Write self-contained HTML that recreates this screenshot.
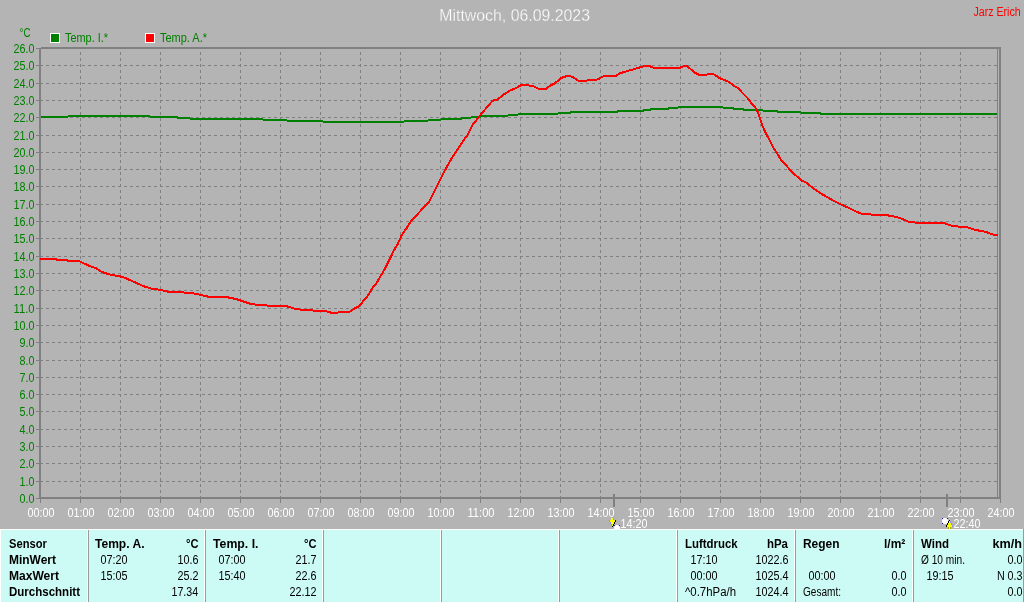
<!DOCTYPE html>
<html><head><meta charset="utf-8"><title>Wetter</title>
<style>html,body{margin:0;padding:0;background:#b4b4b4;overflow:hidden}svg text{white-space:pre}</style></head>
<body>
<svg width="1024" height="602" viewBox="0 0 1024 602" font-family="'Liberation Sans', sans-serif" font-size="12.5" style="display:block;will-change:transform">
<rect x="0" y="0" width="1024" height="602" fill="#b4b4b4"/>
<g shape-rendering="crispEdges" stroke="#808080" stroke-width="1" fill="none">
<line x1="40" y1="481.5" x2="997" y2="481.5" stroke-dasharray="3 3"/>
<line x1="40" y1="463.5" x2="997" y2="463.5" stroke-dasharray="3 3"/>
<line x1="40" y1="446.5" x2="997" y2="446.5" stroke-dasharray="3 3"/>
<line x1="40" y1="429.5" x2="997" y2="429.5" stroke-dasharray="3 3"/>
<line x1="40" y1="411.5" x2="997" y2="411.5" stroke-dasharray="3 3"/>
<line x1="40" y1="394.5" x2="997" y2="394.5" stroke-dasharray="3 3"/>
<line x1="40" y1="377.5" x2="997" y2="377.5" stroke-dasharray="3 3"/>
<line x1="40" y1="360.5" x2="997" y2="360.5" stroke-dasharray="3 3"/>
<line x1="40" y1="342.5" x2="997" y2="342.5" stroke-dasharray="3 3"/>
<line x1="40" y1="325.5" x2="997" y2="325.5" stroke-dasharray="3 3"/>
<line x1="40" y1="308.5" x2="997" y2="308.5" stroke-dasharray="3 3"/>
<line x1="40" y1="290.5" x2="997" y2="290.5" stroke-dasharray="3 3"/>
<line x1="40" y1="273.5" x2="997" y2="273.5" stroke-dasharray="3 3"/>
<line x1="40" y1="256.5" x2="997" y2="256.5" stroke-dasharray="3 3"/>
<line x1="40" y1="238.5" x2="997" y2="238.5" stroke-dasharray="3 3"/>
<line x1="40" y1="221.5" x2="997" y2="221.5" stroke-dasharray="3 3"/>
<line x1="40" y1="204.5" x2="997" y2="204.5" stroke-dasharray="3 3"/>
<line x1="40" y1="186.5" x2="997" y2="186.5" stroke-dasharray="3 3"/>
<line x1="40" y1="169.5" x2="997" y2="169.5" stroke-dasharray="3 3"/>
<line x1="40" y1="152.5" x2="997" y2="152.5" stroke-dasharray="3 3"/>
<line x1="40" y1="135.5" x2="997" y2="135.5" stroke-dasharray="3 3"/>
<line x1="40" y1="117.5" x2="997" y2="117.5" stroke-dasharray="3 3"/>
<line x1="40" y1="100.5" x2="997" y2="100.5" stroke-dasharray="3 3"/>
<line x1="40" y1="83.5" x2="997" y2="83.5" stroke-dasharray="3 3"/>
<line x1="40" y1="65.5" x2="997" y2="65.5" stroke-dasharray="3 3"/>
<line x1="80.5" y1="52" x2="80.5" y2="497" stroke-dasharray="3 3"/>
<line x1="120.5" y1="52" x2="120.5" y2="497" stroke-dasharray="3 3"/>
<line x1="160.5" y1="52" x2="160.5" y2="497" stroke-dasharray="3 3"/>
<line x1="200.5" y1="52" x2="200.5" y2="497" stroke-dasharray="3 3"/>
<line x1="240.5" y1="52" x2="240.5" y2="497" stroke-dasharray="3 3"/>
<line x1="280.5" y1="52" x2="280.5" y2="497" stroke-dasharray="3 3"/>
<line x1="320.5" y1="52" x2="320.5" y2="497" stroke-dasharray="3 3"/>
<line x1="360.5" y1="52" x2="360.5" y2="497" stroke-dasharray="3 3"/>
<line x1="400.5" y1="52" x2="400.5" y2="497" stroke-dasharray="3 3"/>
<line x1="440.5" y1="52" x2="440.5" y2="497" stroke-dasharray="3 3"/>
<line x1="480.5" y1="52" x2="480.5" y2="497" stroke-dasharray="3 3"/>
<line x1="520.5" y1="52" x2="520.5" y2="497" stroke-dasharray="3 3"/>
<line x1="560.5" y1="52" x2="560.5" y2="497" stroke-dasharray="3 3"/>
<line x1="600.5" y1="52" x2="600.5" y2="497" stroke-dasharray="3 3"/>
<line x1="640.5" y1="52" x2="640.5" y2="497" stroke-dasharray="3 3"/>
<line x1="680.5" y1="52" x2="680.5" y2="497" stroke-dasharray="3 3"/>
<line x1="720.5" y1="52" x2="720.5" y2="497" stroke-dasharray="3 3"/>
<line x1="760.5" y1="52" x2="760.5" y2="497" stroke-dasharray="3 3"/>
<line x1="800.5" y1="52" x2="800.5" y2="497" stroke-dasharray="3 3"/>
<line x1="840.5" y1="52" x2="840.5" y2="497" stroke-dasharray="3 3"/>
<line x1="880.5" y1="52" x2="880.5" y2="497" stroke-dasharray="3 3"/>
<line x1="920.5" y1="52" x2="920.5" y2="497" stroke-dasharray="3 3"/>
<line x1="960.5" y1="52" x2="960.5" y2="497" stroke-dasharray="3 3"/>
</g>
<g shape-rendering="crispEdges" fill="#808080">
<rect x="39" y="48" width="2" height="451"/>
<rect x="41" y="47" width="960" height="2"/>
<rect x="39" y="497" width="962" height="2"/>
<rect x="999" y="47" width="2" height="452"/>
<rect x="997" y="49" width="1" height="448"/>
<rect x="36" y="498" width="3" height="1"/>
<rect x="36" y="481" width="3" height="1"/>
<rect x="36" y="463" width="3" height="1"/>
<rect x="36" y="446" width="3" height="1"/>
<rect x="36" y="429" width="3" height="1"/>
<rect x="36" y="411" width="3" height="1"/>
<rect x="36" y="394" width="3" height="1"/>
<rect x="36" y="377" width="3" height="1"/>
<rect x="36" y="360" width="3" height="1"/>
<rect x="36" y="342" width="3" height="1"/>
<rect x="36" y="325" width="3" height="1"/>
<rect x="36" y="308" width="3" height="1"/>
<rect x="36" y="290" width="3" height="1"/>
<rect x="36" y="273" width="3" height="1"/>
<rect x="36" y="256" width="3" height="1"/>
<rect x="36" y="238" width="3" height="1"/>
<rect x="36" y="221" width="3" height="1"/>
<rect x="36" y="204" width="3" height="1"/>
<rect x="36" y="186" width="3" height="1"/>
<rect x="36" y="169" width="3" height="1"/>
<rect x="36" y="152" width="3" height="1"/>
<rect x="36" y="135" width="3" height="1"/>
<rect x="36" y="117" width="3" height="1"/>
<rect x="36" y="100" width="3" height="1"/>
<rect x="36" y="83" width="3" height="1"/>
<rect x="36" y="65" width="3" height="1"/>
<rect x="36" y="48" width="3" height="1"/>
<rect x="40" y="499" width="1" height="4"/>
<rect x="80" y="499" width="1" height="4"/>
<rect x="120" y="499" width="1" height="4"/>
<rect x="160" y="499" width="1" height="4"/>
<rect x="200" y="499" width="1" height="4"/>
<rect x="240" y="499" width="1" height="4"/>
<rect x="280" y="499" width="1" height="4"/>
<rect x="320" y="499" width="1" height="4"/>
<rect x="360" y="499" width="1" height="4"/>
<rect x="400" y="499" width="1" height="4"/>
<rect x="440" y="499" width="1" height="4"/>
<rect x="480" y="499" width="1" height="4"/>
<rect x="520" y="499" width="1" height="4"/>
<rect x="560" y="499" width="1" height="4"/>
<rect x="600" y="499" width="1" height="4"/>
<rect x="640" y="499" width="1" height="4"/>
<rect x="680" y="499" width="1" height="4"/>
<rect x="720" y="499" width="1" height="4"/>
<rect x="760" y="499" width="1" height="4"/>
<rect x="800" y="499" width="1" height="4"/>
<rect x="840" y="499" width="1" height="4"/>
<rect x="880" y="499" width="1" height="4"/>
<rect x="920" y="499" width="1" height="4"/>
<rect x="960" y="499" width="1" height="4"/>
<rect x="1000" y="499" width="1" height="4"/>
<rect x="613" y="494" width="2" height="13"/>
<rect x="946" y="494" width="2" height="13"/>
</g>
<polyline points="41,117 67.5,117 68.5,116 149.5,116 150.5,117 177,117 178,118 189.5,118 190.5,119 262.5,119 263.5,120 286.5,120 287.5,121 322.5,121 323.5,122 403.5,122 404.5,121 427.5,121 428.5,120 440.5,120 441.5,119 460.9,119 461.9,118 470.5,118 471.5,117 480.5,117 481.5,116 507.5,116 508.5,115 517.5,115 518.5,114 557.5,114 558.5,113 570.3,113 571.3,112 617.1,112 618.1,111 643.3,111 644.3,110 650.1,110 651.1,109 667.7,109 668.7,108 677.5,108 678.5,107 722.5,107 723.5,108 733.2,108 734.2,109 742.9,109 743.9,110 762.5,110 763.5,111 777.1,111 778.1,112 800.5,112 801.5,113 820.1,113 821.1,114 997,114" fill="none" stroke="#008000" stroke-width="2" shape-rendering="crispEdges" stroke-linejoin="round"/>
<polyline points="40,258.8 56,258.8 57,259.8 67,259.8 68,261 79.5,261.3 88.5,265.5 96,268.25 101.5,271.75 108.5,274.25 116,275.75 122,276.75 127,278.75 136,282.75 143.5,286.25 151,288.5 161,290 168.5,291.75 180,292.25 192,293 201,295 208.5,296.75 226,297 236,299 243.5,301.5 251,304 258.5,305 271,305.75 286,306 293.75,308.5 301.25,309.75 311.25,310 315,311 326.25,311.25 331.25,312.75 337.5,312.75 340,312 349.5,311.75 353.75,309 358.75,306.5 362.5,302 367.5,296.25 372.5,288 377,282.5 380,277 385,268.75 390,258.75 393.75,250.5 397.5,244.5 401.75,235 406.25,228.75 410,222.5 416.25,215.5 422.5,208.75 428.75,202.5 432.5,195 436.25,187.5 442.5,175 447.5,165.5 453.75,155 461.25,143.75 467.5,135 472.5,125 480,115.5 486.25,108 492.5,100.75 497.5,99.5 503.75,94.5 510,90.5 516.25,88 521.25,85 526.25,85 533.75,86.5 538.75,88.75 546.25,88.75 550,85.75 555,83.25 561.25,78 566.25,76.25 570,76 573.75,77.5 578,80.5 586.25,80.75 590,79.75 597.5,79.5 603.75,76 616.25,75.75 620,73.25 627.5,71 636.25,68.5 643.75,66.25 650,66.25 653.75,67.75 680,67.75 683.75,66.25 687.5,66.25 693.75,72 698.75,74.75 706.25,74.75 709.5,74 713.25,74 720,78.25 728.75,81.75 733.75,85.75 738,88 742.5,93 747.5,98 751.25,103 756.25,108.75 758.75,114.5 762.5,126.25 767.5,136.25 772.5,146.25 776.25,152 781.25,160 786.25,165.5 792.5,172.5 801.5,180.5 806.5,182.75 813,188 820.5,193.25 828,197.5 834.25,201.25 840.5,204.25 848,207.5 854.25,210.75 861.75,213.75 870.5,214.5 885.5,215 895.5,216.75 903,219.25 908,221.5 920.5,223.25 945.5,223.5 953,226.25 966.75,227 975.5,230 985.5,231.75 993,234.5 995,235 998,235" fill="none" stroke="#ff0000" stroke-width="2" shape-rendering="crispEdges" stroke-linejoin="round"/>
<text x="439.3" y="21" fill="#fff" textLength="150.7" lengthAdjust="spacingAndGlyphs" font-size="16" stroke="#b4b4b4" stroke-width="0.28">Mittwoch, 06.09.2023</text>
<text x="973.5" y="16" fill="#ff0000" textLength="47.2" lengthAdjust="spacingAndGlyphs">Jarz Erich</text>
<text x="19.5" y="37" fill="#008000" textLength="11" lengthAdjust="spacingAndGlyphs">°C</text>
<g shape-rendering="crispEdges">
<rect x="50" y="33" width="10" height="10" fill="#fff"/><rect x="51" y="34" width="8" height="8" fill="#008000"/>
<rect x="145" y="33" width="10" height="10" fill="#fff"/><rect x="146" y="34" width="8" height="8" fill="#ff0000"/>
</g>
<text x="65" y="42" fill="#008000" textLength="43" lengthAdjust="spacingAndGlyphs">Temp. I.*</text>
<text x="160" y="42" fill="#008000" textLength="47" lengthAdjust="spacingAndGlyphs">Temp. A.*</text>
<text x="34.5" y="503" fill="#008000" textLength="15" lengthAdjust="spacingAndGlyphs" text-anchor="end">0.0</text>
<text x="34.5" y="486" fill="#008000" textLength="15" lengthAdjust="spacingAndGlyphs" text-anchor="end">1.0</text>
<text x="34.5" y="468" fill="#008000" textLength="15" lengthAdjust="spacingAndGlyphs" text-anchor="end">2.0</text>
<text x="34.5" y="451" fill="#008000" textLength="15" lengthAdjust="spacingAndGlyphs" text-anchor="end">3.0</text>
<text x="34.5" y="434" fill="#008000" textLength="15" lengthAdjust="spacingAndGlyphs" text-anchor="end">4.0</text>
<text x="34.5" y="416" fill="#008000" textLength="15" lengthAdjust="spacingAndGlyphs" text-anchor="end">5.0</text>
<text x="34.5" y="399" fill="#008000" textLength="15" lengthAdjust="spacingAndGlyphs" text-anchor="end">6.0</text>
<text x="34.5" y="382" fill="#008000" textLength="15" lengthAdjust="spacingAndGlyphs" text-anchor="end">7.0</text>
<text x="34.5" y="365" fill="#008000" textLength="15" lengthAdjust="spacingAndGlyphs" text-anchor="end">8.0</text>
<text x="34.5" y="347" fill="#008000" textLength="15" lengthAdjust="spacingAndGlyphs" text-anchor="end">9.0</text>
<text x="34.5" y="330" fill="#008000" textLength="21" lengthAdjust="spacingAndGlyphs" text-anchor="end">10.0</text>
<text x="34.5" y="313" fill="#008000" textLength="21" lengthAdjust="spacingAndGlyphs" text-anchor="end">11.0</text>
<text x="34.5" y="295" fill="#008000" textLength="21" lengthAdjust="spacingAndGlyphs" text-anchor="end">12.0</text>
<text x="34.5" y="278" fill="#008000" textLength="21" lengthAdjust="spacingAndGlyphs" text-anchor="end">13.0</text>
<text x="34.5" y="261" fill="#008000" textLength="21" lengthAdjust="spacingAndGlyphs" text-anchor="end">14.0</text>
<text x="34.5" y="243" fill="#008000" textLength="21" lengthAdjust="spacingAndGlyphs" text-anchor="end">15.0</text>
<text x="34.5" y="226" fill="#008000" textLength="21" lengthAdjust="spacingAndGlyphs" text-anchor="end">16.0</text>
<text x="34.5" y="209" fill="#008000" textLength="21" lengthAdjust="spacingAndGlyphs" text-anchor="end">17.0</text>
<text x="34.5" y="191" fill="#008000" textLength="21" lengthAdjust="spacingAndGlyphs" text-anchor="end">18.0</text>
<text x="34.5" y="174" fill="#008000" textLength="21" lengthAdjust="spacingAndGlyphs" text-anchor="end">19.0</text>
<text x="34.5" y="157" fill="#008000" textLength="21" lengthAdjust="spacingAndGlyphs" text-anchor="end">20.0</text>
<text x="34.5" y="140" fill="#008000" textLength="21" lengthAdjust="spacingAndGlyphs" text-anchor="end">21.0</text>
<text x="34.5" y="122" fill="#008000" textLength="21" lengthAdjust="spacingAndGlyphs" text-anchor="end">22.0</text>
<text x="34.5" y="105" fill="#008000" textLength="21" lengthAdjust="spacingAndGlyphs" text-anchor="end">23.0</text>
<text x="34.5" y="88" fill="#008000" textLength="21" lengthAdjust="spacingAndGlyphs" text-anchor="end">24.0</text>
<text x="34.5" y="70" fill="#008000" textLength="21" lengthAdjust="spacingAndGlyphs" text-anchor="end">25.0</text>
<text x="34.5" y="53" fill="#008000" textLength="21" lengthAdjust="spacingAndGlyphs" text-anchor="end">26.0</text>
<text x="27.5" y="517" fill="#fff" textLength="27" lengthAdjust="spacingAndGlyphs">00:00</text>
<text x="67.5" y="517" fill="#fff" textLength="27" lengthAdjust="spacingAndGlyphs">01:00</text>
<text x="107.5" y="517" fill="#fff" textLength="27" lengthAdjust="spacingAndGlyphs">02:00</text>
<text x="147.5" y="517" fill="#fff" textLength="27" lengthAdjust="spacingAndGlyphs">03:00</text>
<text x="187.5" y="517" fill="#fff" textLength="27" lengthAdjust="spacingAndGlyphs">04:00</text>
<text x="227.5" y="517" fill="#fff" textLength="27" lengthAdjust="spacingAndGlyphs">05:00</text>
<text x="267.5" y="517" fill="#fff" textLength="27" lengthAdjust="spacingAndGlyphs">06:00</text>
<text x="307.5" y="517" fill="#fff" textLength="27" lengthAdjust="spacingAndGlyphs">07:00</text>
<text x="347.5" y="517" fill="#fff" textLength="27" lengthAdjust="spacingAndGlyphs">08:00</text>
<text x="387.5" y="517" fill="#fff" textLength="27" lengthAdjust="spacingAndGlyphs">09:00</text>
<text x="427.5" y="517" fill="#fff" textLength="27" lengthAdjust="spacingAndGlyphs">10:00</text>
<text x="467.5" y="517" fill="#fff" textLength="27" lengthAdjust="spacingAndGlyphs">11:00</text>
<text x="507.5" y="517" fill="#fff" textLength="27" lengthAdjust="spacingAndGlyphs">12:00</text>
<text x="547.5" y="517" fill="#fff" textLength="27" lengthAdjust="spacingAndGlyphs">13:00</text>
<text x="587.5" y="517" fill="#fff" textLength="27" lengthAdjust="spacingAndGlyphs">14:00</text>
<text x="627.5" y="517" fill="#fff" textLength="27" lengthAdjust="spacingAndGlyphs">15:00</text>
<text x="667.5" y="517" fill="#fff" textLength="27" lengthAdjust="spacingAndGlyphs">16:00</text>
<text x="707.5" y="517" fill="#fff" textLength="27" lengthAdjust="spacingAndGlyphs">17:00</text>
<text x="747.5" y="517" fill="#fff" textLength="27" lengthAdjust="spacingAndGlyphs">18:00</text>
<text x="787.5" y="517" fill="#fff" textLength="27" lengthAdjust="spacingAndGlyphs">19:00</text>
<text x="827.5" y="517" fill="#fff" textLength="27" lengthAdjust="spacingAndGlyphs">20:00</text>
<text x="867.5" y="517" fill="#fff" textLength="27" lengthAdjust="spacingAndGlyphs">21:00</text>
<text x="907.5" y="517" fill="#fff" textLength="27" lengthAdjust="spacingAndGlyphs">22:00</text>
<text x="947.5" y="517" fill="#fff" textLength="27" lengthAdjust="spacingAndGlyphs">23:00</text>
<text x="987.5" y="517" fill="#fff" textLength="27" lengthAdjust="spacingAndGlyphs">24:00</text>
<text x="620.5" y="528" fill="#fff" textLength="27" lengthAdjust="spacingAndGlyphs">14:20</text>
<text x="953.5" y="528" fill="#fff" textLength="27" lengthAdjust="spacingAndGlyphs">22:40</text>
<g shape-rendering="crispEdges">
<rect x="611" y="518" width="3" height="2" fill="#ffff00"/>
<rect x="613" y="518" width="1" height="2" fill="#b0b000"/>
<rect x="610" y="520" width="5" height="2" fill="#ffff00"/>
<rect x="609" y="520" width="1" height="2" fill="#8890e0"/>
<rect x="615" y="520" width="1" height="2" fill="#000"/>
<rect x="611" y="522" width="3" height="2" fill="#ffff00"/>
<rect x="610" y="522" width="1" height="2" fill="#8890e0"/>
<rect x="614" y="522" width="1" height="2" fill="#000"/>
<rect x="612" y="524" width="1" height="2" fill="#ffff00"/>
<rect x="611" y="524" width="1" height="2" fill="#8890e0"/>
<rect x="613" y="524" width="1" height="2" fill="#000"/>
<rect x="612" y="526" width="1" height="1" fill="#000"/>
<rect x="615" y="525" width="4" height="1" fill="#fff"/>
<rect x="614" y="526" width="6" height="3" fill="#fff"/>
<rect x="614" y="525" width="1" height="1" fill="#2020a0"/>
<rect x="619" y="525" width="1" height="1" fill="#2020a0"/>
<rect x="615" y="525" width="1" height="1" fill="#dcdcf8"/>
<rect x="618" y="525" width="1" height="1" fill="#dcdcf8"/>
<rect x="614" y="526" width="1" height="1" fill="#dcdcf8"/>
<rect x="619" y="526" width="1" height="1" fill="#dcdcf8"/>
<rect x="943" y="518" width="4" height="1" fill="#fff"/>
<rect x="942" y="519" width="6" height="4" fill="#fff"/>
<rect x="943" y="523" width="4" height="1" fill="#fff"/>
<rect x="942" y="518" width="1" height="1" fill="#2020a0"/>
<rect x="947" y="518" width="1" height="1" fill="#2020a0"/>
<rect x="942" y="523" width="1" height="1" fill="#2020a0"/>
<rect x="943" y="518" width="1" height="1" fill="#dcdcf8"/>
<rect x="946" y="518" width="1" height="1" fill="#dcdcf8"/>
<rect x="942" y="519" width="1" height="1" fill="#dcdcf8"/>
<rect x="947" y="519" width="1" height="1" fill="#dcdcf8"/>
<rect x="942" y="522" width="1" height="1" fill="#dcdcf8"/>
<rect x="943" y="523" width="1" height="1" fill="#dcdcf8"/>
<rect x="949" y="520" width="1" height="1" fill="#000"/>
<rect x="949" y="521" width="1" height="2" fill="#ffff00"/>
<rect x="948" y="521" width="1" height="2" fill="#000"/>
<rect x="950" y="521" width="1" height="2" fill="#8890e0"/>
<rect x="948" y="523" width="3" height="2" fill="#ffff00"/>
<rect x="947" y="523" width="1" height="2" fill="#000"/>
<rect x="951" y="523" width="1" height="2" fill="#8890e0"/>
<rect x="947" y="525" width="5" height="2" fill="#ffff00"/>
<rect x="946" y="525" width="1" height="2" fill="#000"/>
<rect x="952" y="525" width="1" height="2" fill="#8890e0"/>
<rect x="948" y="527" width="3" height="2" fill="#b0b000"/>
<rect x="949" y="527" width="1" height="2" fill="#ffff00"/>
</g>
<g shape-rendering="crispEdges">
<rect x="0" y="529" width="1024" height="73" fill="#ccfaf5"/>
<rect x="0" y="529" width="1023" height="1" fill="#fff"/>
<rect x="0" y="529" width="1" height="73" fill="#fff"/>
<rect x="1023" y="529" width="1" height="73" fill="#9a9a9a"/>
<rect x="87" y="530" width="1" height="72" fill="#fff"/>
<rect x="88" y="530" width="1" height="72" fill="#9a9a9a"/>
<rect x="204" y="530" width="1" height="72" fill="#fff"/>
<rect x="205" y="530" width="1" height="72" fill="#9a9a9a"/>
<rect x="322" y="530" width="1" height="72" fill="#fff"/>
<rect x="323" y="530" width="1" height="72" fill="#9a9a9a"/>
<rect x="440" y="530" width="1" height="72" fill="#fff"/>
<rect x="441" y="530" width="1" height="72" fill="#9a9a9a"/>
<rect x="558" y="530" width="1" height="72" fill="#fff"/>
<rect x="559" y="530" width="1" height="72" fill="#9a9a9a"/>
<rect x="676" y="530" width="1" height="72" fill="#fff"/>
<rect x="677" y="530" width="1" height="72" fill="#9a9a9a"/>
<rect x="794" y="530" width="1" height="72" fill="#fff"/>
<rect x="795" y="530" width="1" height="72" fill="#9a9a9a"/>
<rect x="912" y="530" width="1" height="72" fill="#fff"/>
<rect x="913" y="530" width="1" height="72" fill="#9a9a9a"/>
</g>
<text x="9" y="548" fill="#000" textLength="37.8" lengthAdjust="spacingAndGlyphs" font-weight="bold">Sensor</text>
<text x="9" y="564" fill="#000" textLength="47" lengthAdjust="spacingAndGlyphs" font-weight="bold">MinWert</text>
<text x="9" y="580" fill="#000" textLength="50" lengthAdjust="spacingAndGlyphs" font-weight="bold">MaxWert</text>
<text x="9" y="596" fill="#000" textLength="71" lengthAdjust="spacingAndGlyphs" font-weight="bold">Durchschnitt</text>
<text x="95" y="548" fill="#000" textLength="49.5" lengthAdjust="spacingAndGlyphs" font-weight="bold">Temp. A.</text>
<text x="198.5" y="548" fill="#000" textLength="12.5" lengthAdjust="spacingAndGlyphs" font-weight="bold" text-anchor="end">°C</text>
<text x="100.5" y="564" fill="#000" textLength="27" lengthAdjust="spacingAndGlyphs">07:20</text>
<text x="198.5" y="564" fill="#000" textLength="21" lengthAdjust="spacingAndGlyphs" text-anchor="end">10.6</text>
<text x="100.5" y="580" fill="#000" textLength="27" lengthAdjust="spacingAndGlyphs">15:05</text>
<text x="198.5" y="580" fill="#000" textLength="21" lengthAdjust="spacingAndGlyphs" text-anchor="end">25.2</text>
<text x="198.2" y="596" fill="#000" textLength="26.7" lengthAdjust="spacingAndGlyphs" text-anchor="end">17.34</text>
<text x="213" y="548" fill="#000" textLength="45.5" lengthAdjust="spacingAndGlyphs" font-weight="bold">Temp. I.</text>
<text x="316.5" y="548" fill="#000" textLength="12.5" lengthAdjust="spacingAndGlyphs" font-weight="bold" text-anchor="end">°C</text>
<text x="218.5" y="564" fill="#000" textLength="27" lengthAdjust="spacingAndGlyphs">07:00</text>
<text x="316.5" y="564" fill="#000" textLength="21" lengthAdjust="spacingAndGlyphs" text-anchor="end">21.7</text>
<text x="218.5" y="580" fill="#000" textLength="27" lengthAdjust="spacingAndGlyphs">15:40</text>
<text x="316.5" y="580" fill="#000" textLength="21" lengthAdjust="spacingAndGlyphs" text-anchor="end">22.6</text>
<text x="316.5" y="596" fill="#000" textLength="27" lengthAdjust="spacingAndGlyphs" text-anchor="end">22.12</text>
<text x="685" y="548" fill="#000" textLength="52.7" lengthAdjust="spacingAndGlyphs" font-weight="bold">Luftdruck</text>
<text x="788" y="548" fill="#000" textLength="21" lengthAdjust="spacingAndGlyphs" font-weight="bold" text-anchor="end">hPa</text>
<text x="690.5" y="564" fill="#000" textLength="27" lengthAdjust="spacingAndGlyphs">17:10</text>
<text x="788.5" y="564" fill="#000" textLength="33" lengthAdjust="spacingAndGlyphs" text-anchor="end">1022.6</text>
<text x="690.5" y="580" fill="#000" textLength="27" lengthAdjust="spacingAndGlyphs">00:00</text>
<text x="788.5" y="580" fill="#000" textLength="33" lengthAdjust="spacingAndGlyphs" text-anchor="end">1025.4</text>
<text x="685" y="596" fill="#000" textLength="51" lengthAdjust="spacingAndGlyphs">^0.7hPa/h</text>
<text x="788.5" y="596" fill="#000" textLength="33" lengthAdjust="spacingAndGlyphs" text-anchor="end">1024.4</text>
<text x="803" y="548" fill="#000" textLength="36.5" lengthAdjust="spacingAndGlyphs" font-weight="bold">Regen</text>
<text x="905.3" y="548" fill="#000" textLength="21.3" lengthAdjust="spacingAndGlyphs" font-weight="bold" text-anchor="end">l/m²</text>
<text x="808.5" y="580" fill="#000" textLength="27" lengthAdjust="spacingAndGlyphs">00:00</text>
<text x="906.5" y="580" fill="#000" textLength="15" lengthAdjust="spacingAndGlyphs" text-anchor="end">0.0</text>
<text x="803" y="596" fill="#000" textLength="38" lengthAdjust="spacingAndGlyphs">Gesamt:</text>
<text x="906.5" y="596" fill="#000" textLength="15" lengthAdjust="spacingAndGlyphs" text-anchor="end">0.0</text>
<text x="921" y="548" fill="#000" textLength="28" lengthAdjust="spacingAndGlyphs" font-weight="bold">Wind</text>
<text x="1022" y="548" fill="#000" textLength="29.5" lengthAdjust="spacingAndGlyphs" font-weight="bold" text-anchor="end">km/h</text>
<text x="921" y="564" fill="#000" textLength="44" lengthAdjust="spacingAndGlyphs">Ø 10 min.</text>
<text x="1022.5" y="564" fill="#000" textLength="15" lengthAdjust="spacingAndGlyphs" text-anchor="end">0.0</text>
<text x="926.5" y="580" fill="#000" textLength="27" lengthAdjust="spacingAndGlyphs">19:15</text>
<text x="1022.5" y="580" fill="#000" textLength="25.6" lengthAdjust="spacingAndGlyphs" text-anchor="end">N 0.3</text>
<text x="1022.5" y="596" fill="#000" textLength="15" lengthAdjust="spacingAndGlyphs" text-anchor="end">0.0</text>
</svg>
</body></html>
